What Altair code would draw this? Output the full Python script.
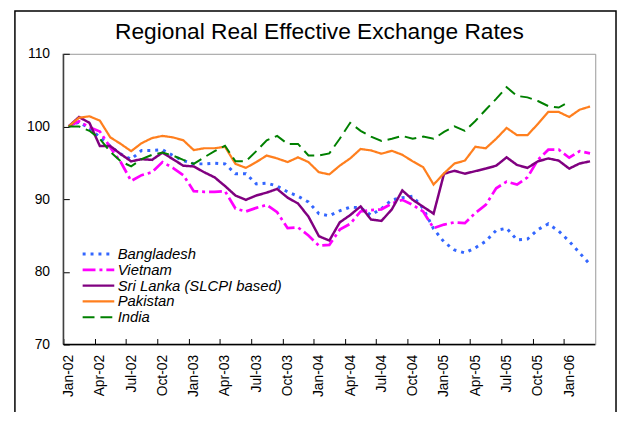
import altair as alt
import pandas as pd

tick_labels = ["Jan-02", "Apr-02", "Jul-02", "Oct-02", "Jan-03", "Apr-03", "Jul-03", "Oct-03",
               "Jan-04", "Apr-04", "Jul-04", "Oct-04", "Jan-05", "Apr-05", "Jul-05", "Oct-05", "Jan-06"]

series_names = ["Bangladesh", "Vietnam", "Sri Lanka (SLCPI based)", "Pakistan", "India"]

bangladesh = [100, 100.6, 99.75, 98.5, 97.3, 96.2, 95.5, 96.7, 96.7, 96.8, 96.0, 95.3,
              94.85, 94.85, 94.95, 94.85, 93.5, 93.5, 92.1, 92.2, 91.8, 91.0, 90.4, 89.6,
              88.0, 87.7, 88.4, 88.9, 88.8, 87.8, 88.7, 89.9, 90.2, 90.4, 88.7, 85.9,
              84.1, 83.0, 82.6, 83.3, 84.2, 85.7, 86.0, 84.4, 84.5, 85.8, 86.6, 85.6,
              84.2, 82.6, 81.0]
vietnam = [100, 100.7, 99.9, 99.3, 97.1, 95.1, 92.5, 93.3, 93.7, 95.1, 94.3, 93.3,
           91.1, 91.0, 91.0, 91.1, 88.7, 88.3, 88.8, 89.2, 88.2, 86.0, 86.1, 85.0,
           83.6, 83.7, 85.8, 86.6, 88.3, 88.5, 88.6, 89.4, 89.9, 89.2, 88.3, 86.0,
           86.5, 86.8, 86.7, 88.1, 89.2, 91.5, 92.4, 92.0, 93.0, 95.4, 96.8, 96.8,
           95.7, 96.6, 96.3]
sri_lanka = [100, 101.3, 100.5, 97.3, 97.3, 96.2, 95.2, 95.5, 95.4, 96.4, 95.5, 94.6,
             94.5, 93.7, 93.0, 91.8, 90.5, 89.9, 90.5, 90.9, 91.4, 90.2, 89.4, 87.6,
             84.9, 84.3, 86.8, 87.8, 89.0, 87.2, 87.0, 88.6, 91.2, 89.9, 88.95, 88.0,
             93.5, 93.9, 93.5, 93.85, 94.2, 94.6, 95.75, 94.7, 94.3, 95.2, 95.6, 95.3,
             94.2, 94.9, 95.2]
pakistan = [100, 101.2, 101.4, 100.8, 98.5, 97.6, 96.6, 97.7, 98.4, 98.7, 98.5, 98.1,
            96.75, 97.0, 97.0, 97.2, 94.85, 94.3, 95.1, 96.0, 95.6, 95.1, 95.75, 95.1,
            93.7, 93.4, 94.6, 95.6, 96.9, 96.7, 96.25, 96.65, 96.1, 95.2, 94.4, 92.0,
            93.55, 94.9, 95.3, 97.2, 97.0, 98.3, 99.8, 98.8, 98.8, 100.35, 102.0, 102.0,
            101.3, 102.3, 102.75]
india = [100, 100, 99.4, 98.3, 96.5, 95.2, 94.5, 95.5, 96.1, 96.4, 96.0, 95.4,
         94.85, 95.75, 96.6, 97.35, 95.2, 95.2, 96.6, 98.1, 98.7, 97.6, 97.6, 96.0,
         96.0, 96.3, 98.3, 100.5, 99.4, 98.6, 98.0, 98.3, 98.7, 98.3, 98.6, 98.3,
         99.25, 100.0, 99.4, 100.75, 102.3, 103.8, 105.4, 104.2, 104.0, 103.5, 102.8, 102.6,
         103.4]

title_text = "Regional Real Effective Exchange Rates"

series_values = [bangladesh, vietnam, sri_lanka, pakistan, india]
colors = ["#3366FF", "#FF00FF", "#800080", "#FF7F1E", "#008000"]
dashes = [[3, 5], [13, 4, 3, 4], [1, 0], [1, 0], [12, 6]]
widths = [3, 2, 3, 1.2, 2.5]

rows = []
for name, vals in zip(series_names, series_values):
    for i, v in enumerate(vals):
        rows.append({"i": i, "value": v, "series": name})
df = pd.DataFrame(rows)

W, H = 538, 294
n_months = 51
half = W / n_months / 2

label_expr = "[" + ",".join("'" + t + "'" for t in tick_labels) + "][round(datum.value / 3)]"

lines = alt.Chart(df).mark_line().encode(
    x=alt.X("i:Q",
            scale=alt.Scale(domain=[-0.5, n_months - 0.5], nice=False, zero=False),
            axis=alt.Axis(values=list(range(0, 49, 3)), labelExpr=label_expr, title=None,
                          grid=False, domain=False, offset=-6, tickSize=6, tickColor="black",
                          tickOffset=-half, labelOffset=half, labelAngle=270,
                          labelAlign="right", labelBaseline="middle", labelPadding=10,
                          labelFont="Liberation Sans", labelFontSize=14, labelColor="black")),
    y=alt.Y("value:Q",
            scale=alt.Scale(domain=[70, 110], nice=False, zero=False),
            axis=alt.Axis(values=[70, 80, 90, 100, 110], title=None, grid=False, domain=False,
                          offset=-6, tickSize=6, tickColor="black", labelPadding=14,
                          labelFont="Liberation Sans", labelFontSize=14, labelColor="black")),
    color=alt.Color("series:N", scale=alt.Scale(domain=series_names, range=colors),
                    legend=alt.Legend(title=None, orient="none", legendX=28, legendY=195,
                                      symbolType="M-4,0H4", symbolSize=64, padding=0,
                                      labelFont="Liberation Sans", labelFontSize=15,
                                      labelFontStyle="italic", labelColor="black",
                                      labelOffset=12, rowPadding=0, labelLimit=400)),
    strokeDash=alt.StrokeDash("series:N", scale=alt.Scale(domain=series_names, range=dashes)),
    strokeWidth=alt.StrokeWidth("series:N", scale=alt.Scale(domain=series_names, range=widths)),
)

one = pd.DataFrame({"a": [0]})
left_axis = alt.Chart(one).mark_rule(color="#404040", strokeWidth=1.5).encode(
    x=alt.value(0), y=alt.value(0), y2=alt.value(H))
bottom_axis = alt.Chart(one).mark_rule(color="black", strokeWidth=1.5).encode(
    x=alt.value(0), x2=alt.value(W), y=alt.value(H))
frame = alt.Chart(one).mark_rect(filled=False, stroke="black", strokeWidth=1.5).encode(
    x=alt.value(-49), x2=alt.value(559), y=alt.value(-43.2), y2=alt.value(380))
title = alt.Chart(one).mark_text(font="Liberation Sans", fontSize=23, color="black",
                                 align="center", baseline="alphabetic").encode(
    x=alt.value(259), y=alt.value(-15), text=alt.value(title_text))

chart = alt.layer(frame, title, lines, left_axis, bottom_axis).properties(
    width=W, height=H,
    autosize=alt.AutoSizeParams(type="none"),
    padding={"left": 56, "top": 44, "right": 22, "bottom": 66},
).configure_view(stroke="#999999", strokeWidth=1)

chart.save("out.html", embed_options={"renderer": "svg", "actions": False})
